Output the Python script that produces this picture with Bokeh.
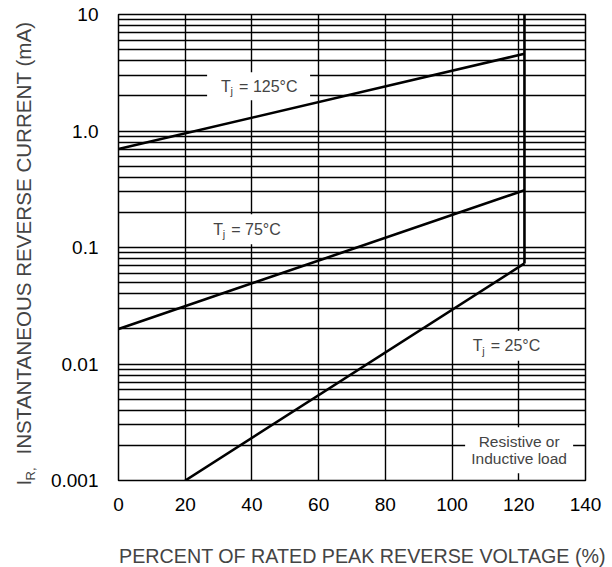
import math
from bokeh.plotting import figure
from bokeh.models import Range1d, FixedTicker, Label, CustomJSTickFormatter
from bokeh.embed import file_html
from bokeh.resources import INLINE

# ---------------- data ----------------
x_ticks = [0, 20, 40, 60, 80, 100, 120, 140]
y_ticks = [0.001, 0.01, 0.1, 1.0, 10.0]
y_tick_labels = ["0.001", "0.01", "0.1", "1.0", "10"]

pct_125 = [0, 121.7]
ir_125 = [0.70, 4.6]
pct_75 = [0, 121.7]
ir_75 = [0.020, 0.31]
pct_25 = [20, 121.7]
ir_25 = [0.001, 0.073]
pct_limit = [121.7, 121.7]
ir_limit = [0.073, 10.0]

# label anchors (data units)
lab_125 = (42.0, 2.42)
lab_75 = (38.3, 0.1436)
lab_25 = (116.1, 0.01436)
lab_load = (120.1, 0.00182)

FONT = "Liberation Sans"

# frame geometry (pixels)
FL, FR, FT, FB = 118, 585, 14, 480
W, H = 612, 567


def dx(px):
    return (px - FL) / ((FR - FL) / 140.0)


def dy(py):
    return 10 ** (1 - (py - FT) / ((FB - FT) / 4.0))


p = figure(width=W, height=H, output_backend="svg", toolbar_location=None,
           title=None, y_axis_type="log",
           x_range=Range1d(0, 140), y_range=Range1d(0.001, 10),
           min_border_left=FL, min_border_right=W - FR, min_border_top=FT,
           min_border_bottom=H - FB)
p.background_fill_color = "white"
p.border_fill_color = "white"
p.outline_line_color = "black"
p.outline_line_width = 1.5

# grids
minor = []
for k in range(-3, 1):
    for m in range(1, 10):
        minor.append(m * 10 ** k)
minor.append(10.0)
p.ygrid.ticker = FixedTicker(ticks=minor)
p.xgrid.ticker = FixedTicker(ticks=x_ticks[1:-1])
for g in (p.xgrid, p.ygrid):
    g.grid_line_color = "black"
    g.grid_line_width = 1.4
    g.grid_line_alpha = 1.0

# axes
p.xaxis.ticker = FixedTicker(ticks=x_ticks)
p.yaxis.ticker = FixedTicker(ticks=y_ticks)
p.yaxis.formatter = CustomJSTickFormatter(
    args=dict(tvals=y_ticks, tlabels=y_tick_labels),
    code="""
    for (let i = 0; i < tvals.length; i++) {
        if (Math.abs(Math.log10(tvals[i]) - Math.log10(tick)) < 1e-6) return tlabels[i];
    }
    return "";
""")
for ax in (p.xaxis, p.yaxis):
    ax.axis_line_color = None
    ax.major_tick_line_color = None
    ax.minor_tick_line_color = None
    ax.major_tick_out = 0
    ax.major_tick_in = 0
    ax.minor_tick_out = 0
    ax.major_label_text_font = FONT
    ax.major_label_text_font_size = "19px"
    ax.major_label_text_color = "black"
p.xaxis.major_label_standoff = 17
p.yaxis.major_label_standoff = 20

# white boxes behind annotations
box_x = [lab_125[0], lab_75[0], lab_25[0], lab_load[0]]
box_y = [lab_125[1], lab_75[1], lab_25[1], lab_load[1]]
p.rect(x=box_x, y=box_y, width=[103, 86, 85, 108], height=[28, 30, 30, 46],
       width_units="screen", height_units="screen",
       fill_color="white", line_color=None)

# curves
for xs, ys in ((pct_125, ir_125), (pct_75, ir_75), (pct_25, ir_25), (pct_limit, ir_limit)):
    p.line(xs, ys, line_color="black", line_width=2.6)


def tj_label(anchor, rest, total_w, size=16):
    x0, y0 = anchor
    start = -total_w / 2.0
    p.add_layout(Label(x=x0, y=y0, x_offset=start, y_offset=0, text="T",
                       text_font=FONT, text_font_size=f"{size}px",
                       text_align="left", text_baseline="middle"))
    p.add_layout(Label(x=x0, y=y0, x_offset=start + 9.5, y_offset=-5, text="j",
                       text_font=FONT, text_font_size="11px",
                       text_align="left", text_baseline="middle"))
    p.add_layout(Label(x=x0, y=y0, x_offset=start + 18, y_offset=0,
                       text=rest, text_font=FONT, text_font_size=f"{size}px",
                       text_align="left", text_baseline="middle"))


tj_label(lab_125, "= 125\u00b0C", 75)
tj_label(lab_75, "= 75\u00b0C", 66)
tj_label(lab_25, "= 25\u00b0C", 66)

p.add_layout(Label(x=lab_load[0], y=lab_load[1], y_offset=9, text="Resistive or",
                   text_font=FONT, text_font_size="15.5px",
                   text_align="center", text_baseline="middle"))
p.add_layout(Label(x=lab_load[0], y=lab_load[1], y_offset=-8, text="Inductive load",
                   text_font=FONT, text_font_size="15.5px",
                   text_align="center", text_baseline="middle"))

# axis titles: placed in side panels (so they are not clipped to the frame);
# spread over panels that have spare room so the frame keeps its place
p.add_layout(Label(x=dx(362), y=dy(555),
                   text="PERCENT OF RATED PEAK REVERSE VOLTAGE (%)",
                   text_font=FONT, text_font_size="19.7px",
                   text_align="center", text_baseline="middle"), "below")
p.add_layout(Label(x=dx(23), y=dy(485), text="I",
                   angle=math.pi / 2, text_font=FONT, text_font_size="20.5px",
                   text_align="left", text_baseline="middle"), "right")
p.add_layout(Label(x=dx(30), y=dy(480), text="R,",
                   angle=math.pi / 2, text_font=FONT, text_font_size="13px",
                   text_align="left", text_baseline="middle"), "below")
p.add_layout(Label(x=dx(23), y=dy(454),
                   text="INSTANTANEOUS REVERSE CURRENT (mA)",
                   angle=math.pi / 2, text_font=FONT, text_font_size="20.6px",
                   text_align="left", text_baseline="middle"), "left")

open("out.html", "w").write(file_html(p, INLINE))
